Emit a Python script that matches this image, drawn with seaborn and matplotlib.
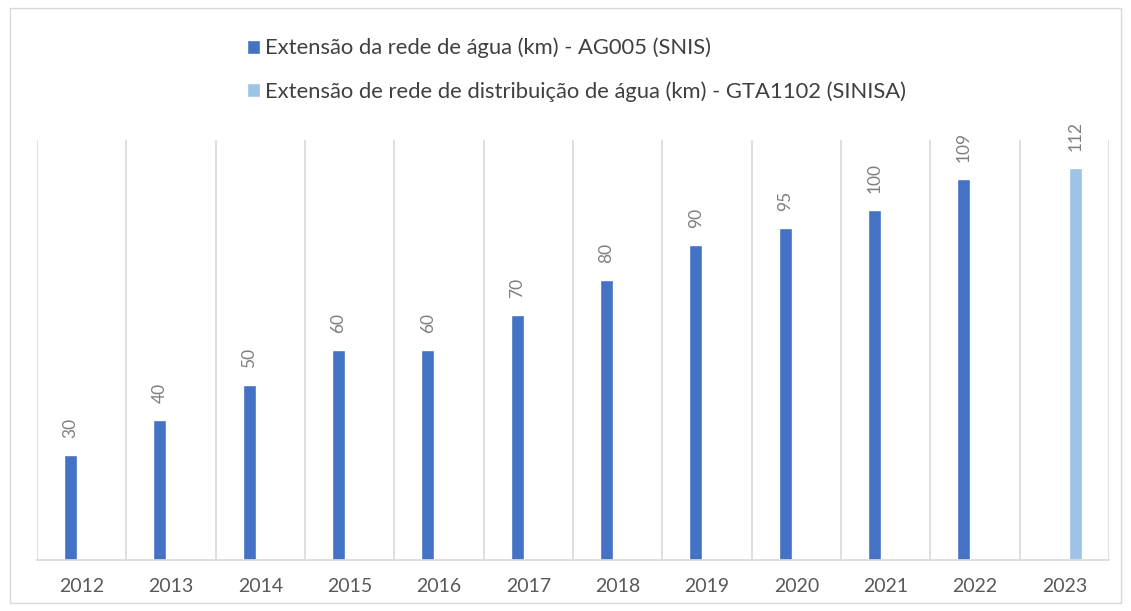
import pandas as pd
import matplotlib.pyplot as plt
import seaborn as sns
from matplotlib.patches import Rectangle

# data
years = ['2012', '2013', '2014', '2015', '2016', '2017', '2018', '2019', '2020', '2021', '2022', '2023']
snis_years = years[:11]
snis_values = [30, 40, 50, 60, 60, 70, 80, 90, 95, 100, 109]
sinisa_years = ['2023']
sinisa_values = [112]

snis_label = 'Extensão da rede de água (km) - AG005 (SNIS)'
sinisa_label = 'Extensão de rede de distribuição de água (km) - GTA1102 (SINISA)'
colors = {snis_label: '#4472C4', sinisa_label: '#9DC3E6'}


def build_frame():
    a = pd.DataFrame({'ano': snis_years, 'valor': snis_values, 'serie': snis_label})
    b = pd.DataFrame({'ano': sinisa_years, 'valor': sinisa_values, 'serie': sinisa_label})
    return pd.concat([a, b], ignore_index=True)


def main():
    sns.set_style('white')
    plt.rcParams['font.family'] = ['Lato', 'DejaVu Sans']

    df = build_frame()
    fig = plt.figure(figsize=(11.31, 6.11), dpi=100)
    ax = fig.add_axes([37 / 1131, 51 / 611, 1072 / 1131, 420 / 611])

    sns.barplot(data=df, x='ano', y='valor', hue='serie', order=years,
                hue_order=[snis_label, sinisa_label], palette=colors,
                width=0.5, dodge=True, errorbar=None, saturation=1, ax=ax)

    # keep the dodge offsets but make the bars thin, like the original
    bar_w = 0.146
    for cont in ax.containers:
        for p in cont.patches:
            cx = p.get_x() + p.get_width() / 2
            p.set_width(bar_w)
            p.set_x(cx - bar_w / 2)

    for cont in ax.containers:
        ax.bar_label(cont, rotation=90, padding=12, color='#7f7f7f', fontsize=12.5)

    ax.set_ylim(0, 120)
    ax.set_xlim(-0.5, len(years) - 0.5)
    ax.set_xlabel('')
    ax.set_ylabel('')
    ax.set_yticks([])

    # vertical separators between the categories
    ax.set_xticks([i - 0.5 for i in range(len(years) + 1)], minor=True)
    ax.grid(True, axis='x', which='minor', color='#d9d9d9', linewidth=1.2)
    ax.tick_params(axis='x', which='both', length=0, colors='#595959', labelsize=14, pad=13)

    for s in ['top', 'right', 'left']:
        ax.spines[s].set_visible(False)
    ax.spines['bottom'].set_color('#d9d9d9')
    ax.spines['bottom'].set_linewidth(1.2)

    handles, labels = ax.get_legend_handles_labels()
    ax.get_legend().remove()
    fig.legend(handles, labels, loc='upper left', bbox_to_anchor=(227 / 1131, 1 - 18 / 611),
               frameon=False, fontsize=15.8, handlelength=0.6, handleheight=0.6,
               handletextpad=0.25, labelspacing=1.05, labelcolor='#404040')

    # light border round the chart area
    fig.patches.append(Rectangle((10 / 1131, 8 / 611), 1111 / 1131, 595 / 611,
                                 transform=fig.transFigure, fill=False,
                                 edgecolor='#d9d9d9', linewidth=1))

    fig.savefig('out.png', dpi=100)
    plt.close(fig)


if __name__ == '__main__':
    main()
